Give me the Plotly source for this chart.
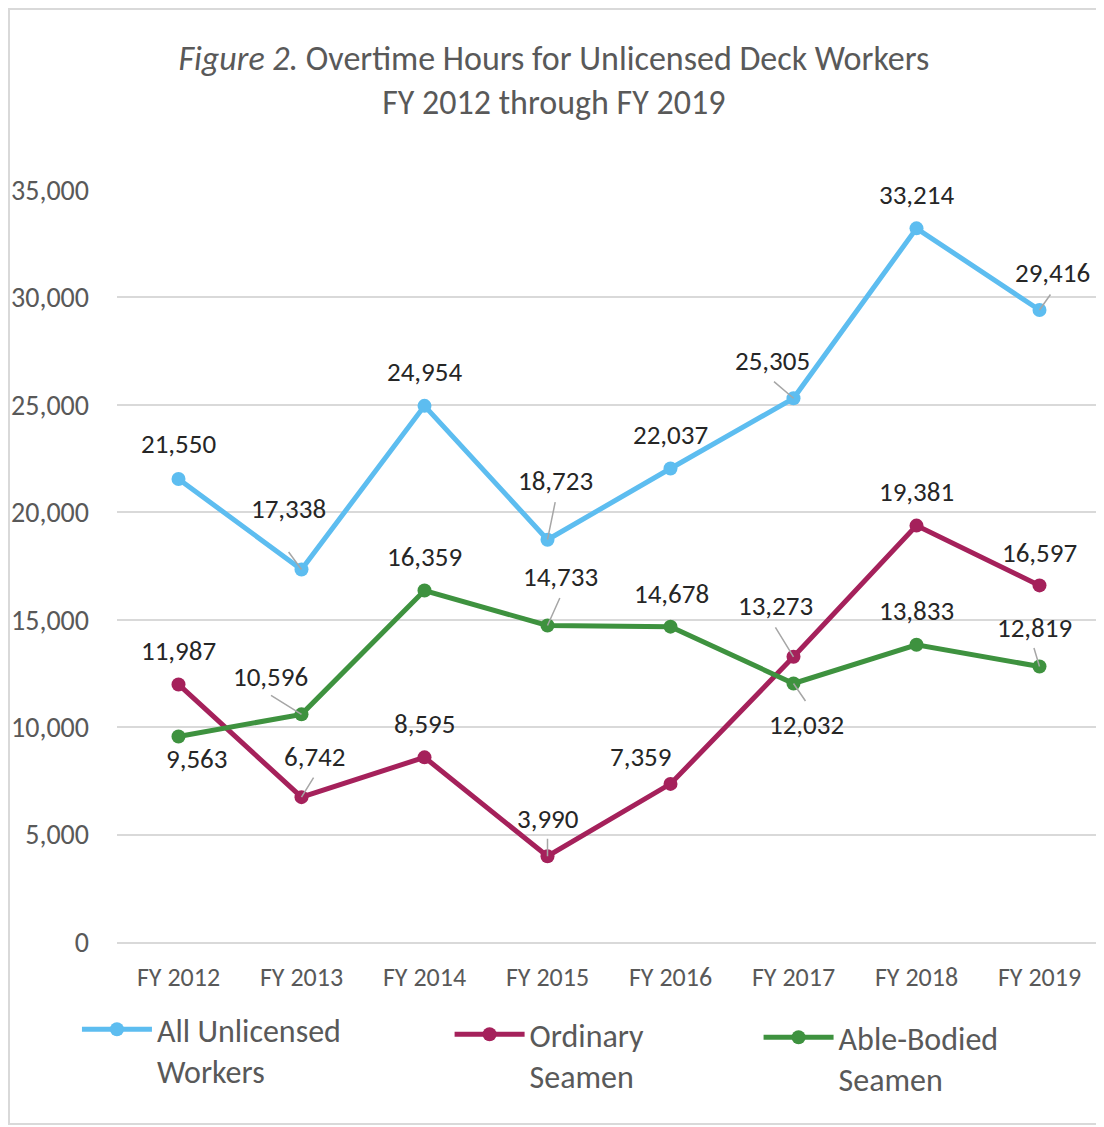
import plotly.graph_objects as go

categories = ["FY 2012", "FY 2013", "FY 2014", "FY 2015", "FY 2016", "FY 2017", "FY 2018", "FY 2019"]
all_unlicensed = [21550, 17338, 24954, 18723, 22037, 25305, 33214, 29416]
ordinary_seamen = [11987, 6742, 8595, 3990, 7359, 13273, 19381, 16597]
able_bodied = [9563, 10596, 16359, 14733, 14678, 12032, 13833, 12819]
y_ticks = [0, 5000, 10000, 15000, 20000, 25000, 30000, 35000]

series_names = ["All Unlicensed<br>Workers", "Ordinary<br>Seamen", "Able-Bodied<br>Seamen"]
series_colors = ["#5DBDF0", "#A5215B", "#3E923F"]

# label placement (pixel offsets: dx, dy up) and optional leader start offsets
label_offsets = [
    [(0, 35), (-13, 61), (0, 34), (8, 59), (0, 34), (-21, 38), (0, 34), (13, 37)],
    [(0, 34), (13, 41), (0, 34), (0, 38), (-30, 27), (-18, 51), (0, 34), (0, 33)],
    [(18, -22), (-31, 38), (0, 34), (13, 49), (1, 33), (13, -41), (0, 34), (-5, 39)],
]
leader_starts = [
    [None, (-14, 19), None, (8, 39), None, (-21, 18), None, (12, 17)],
    [None, (13, 21), None, (0, 19), None, (-19, 31), None, None],
    [None, (-32, 20), None, (13, 29), None, (13, -19), None, (-6, 20)],
]

FONT = "Carlito, Lato, 'Open Sans', sans-serif"
GRAY = "#595959"
GRID = "#D9D9D9"

fig = go.Figure()
all_series = [all_unlicensed, ordinary_seamen, able_bodied]
legend_ids = ["legend", "legend2", "legend3"]
for name, vals, color, lg in zip(series_names, all_series, series_colors, legend_ids):
    fig.add_trace(go.Scatter(
        x=categories, y=vals, name=name, mode="lines+markers",
        line=dict(color=color, width=5),
        marker=dict(color=color, size=14),
        legend=lg, cliponaxis=False, showlegend=True,
    ))

annotations = []
for vals, offs, leads in zip(all_series, label_offsets, leader_starts):
    for cat, v, off, lead in zip(categories, vals, offs, leads):
        if lead is not None:
            annotations.append(dict(
                x=cat, y=v, text="", showarrow=True, arrowhead=0,
                arrowwidth=1.5, arrowcolor="#A6A6A6", standoff=0,
                ax=lead[0], ay=-lead[1],
            ))
        annotations.append(dict(
            x=cat, y=v, text=f"{v:,}", showarrow=False,
            xshift=off[0], yshift=off[1],
            font=dict(family=FONT, size=27, color="#262626"),
        ))

legend_common = dict(
    orientation="h", xanchor="left", yanchor="top", valign="top",
    font=dict(family=FONT, size=32, color=GRAY),
    bgcolor="rgba(0,0,0,0)", itemwidth=70, visible=True,
)

W, H = 1096, 1119
fig.update_layout(
    width=W, height=H,
    showlegend=True,
    margin=dict(l=109, r=3, t=182, b=185),
    paper_bgcolor="white", plot_bgcolor="white",
    title=dict(
        text="<i>Figure 2.</i> Overtime Hours for Unlicensed Deck Workers<br>FY 2012 through FY 2019",
        x=0.498, xanchor="center", y=1 - 62 / H, yanchor="top",
        font=dict(family=FONT, size=34, color=GRAY),
    ),
    xaxis=dict(
        type="category", range=[-0.5, 7.5], showgrid=False,
        showline=True, linecolor=GRID, linewidth=2, ticks="",
        tickfont=dict(family=FONT, size=26, color=GRAY),
        ticklabelstandoff=11,
    ),
    yaxis=dict(
        range=[0, 35000], tickvals=y_ticks, tickformat=",",
        showgrid=True, gridcolor=GRID, gridwidth=2, zeroline=False,
        showline=False, ticks="",
        tickfont=dict(family=FONT, size=28, color=GRAY),
        ticklabelstandoff=27,
    ),
    legend=dict(x=-0.0407, y=-0.0798, **legend_common),
    legend2=dict(x=0.338, y=-0.0864, **legend_common),
    legend3=dict(x=0.652, y=-0.0904, **legend_common),
    annotations=annotations,
    shapes=[dict(
        type="rect", xref="paper", yref="paper",
        x0=(9 - 117) / 984, x1=1.0, y0=(942 - 1124) / 752, y1=(942 - 9) / 752,
        line=dict(color=GRID, width=2), fillcolor="rgba(0,0,0,0)", layer="below",
    )],
)

fig.write_html("out.html")
